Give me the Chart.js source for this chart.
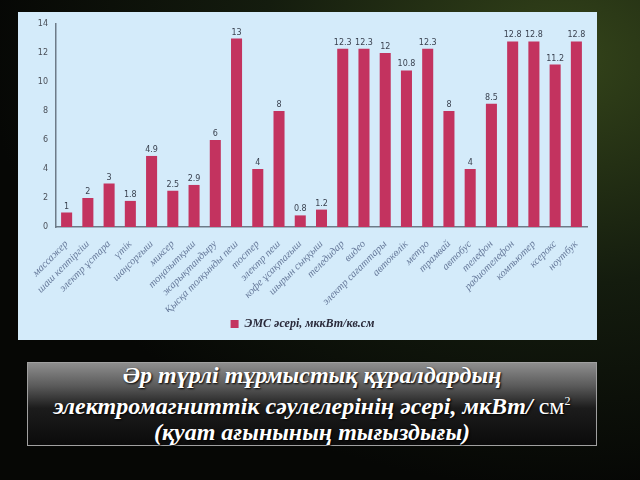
<!DOCTYPE html>
<html><head><meta charset="utf-8">
<script src="https://cdn.jsdelivr.net/npm/chart.js@4"></script>
<style>
html,body{margin:0;padding:0;width:640px;height:480px;overflow:hidden;background:#000;}
#bg{position:absolute;left:0;top:0;width:640px;height:480px;background:radial-gradient(ellipse at 88% 12%, #34441a 0%, #141c0e 38%, #060705 72%);}
#box{position:absolute;left:18px;top:12px;width:579px;height:328px;background:#d4ebfa;}
#cap{position:absolute;left:27px;top:362px;width:570px;height:84px;border:1px solid #a0a0a0;box-sizing:border-box;background:linear-gradient(#8e8e8e 0%, #5a5a5a 28%, #1c1c1c 55%, #0b0b0b 100%);color:#fff;font:italic bold 24px "Liberation Serif",serif;text-align:center;line-height:26px;padding-top:0px;text-shadow:1px 1px 2px #000;white-space:nowrap;}
#cap div{position:relative;top:-1px;}
#cap sup{font-size:12px;}
</style></head>
<body>
<div id="bg"></div>
<div id="box"><canvas id="c" width="579" height="328"></canvas></div>
<div id="cap"><div>Әр түрлі тұрмыстық құралдардың<br>электромагниттік сәулелерінің әсері, мкВт/ <span style="font-style:normal;font-weight:normal">см<sup>2</sup></span><br>(қуат ағынының тығыздығы)</div></div>
<script>
const categories = ['массажер','шаш кептіргіш','электр ұстара','үтік','шаңсорғыш','миксер','тоңазытқыш','жарықтандыру','Қысқа толқынды пеш','тостер','электр пеш','кофе ұсақтағыш','шырын сыққыш','теледидар','видео','электр сағаттары','автокөлік','метро','трамвай','автобус','телефон','радиотелефон','компьютер','ксерокс','ноутбук'];
const values = [1,2,3,1.8,4.9,2.5,2.9,6,13,4,8,0.8,1.2,12.3,12.3,12,10.8,12.3,8,4,8.5,12.8,12.8,11.2,12.8];
const yTicks = [0,2,4,6,8,10,12,14];
const seriesName = 'ЭМС әсері, мккВт/кв.см';

const valueLabels = {
  id:'valueLabels',
  afterDatasetsDraw(chart){
    const ctx = chart.ctx;
    const meta = chart.getDatasetMeta(0);
    ctx.save();
    ctx.font = '8px "DejaVu Sans", sans-serif';
    ctx.fillStyle = '#3a4250';
    ctx.textAlign = 'center';
    ctx.textBaseline = 'bottom';
    meta.data.forEach((bar,i)=>{ ctx.fillText(String(values[i]), bar.x, bar.y - 2); });
    ctx.restore();
  }
};

new Chart(document.getElementById('c'), {
  type:'bar',
  data:{ labels:categories, datasets:[{ label:seriesName, data:values, backgroundColor:'#c3335f', borderWidth:0, barPercentage:0.52, categoryPercentage:1 }]},
  options:{
    responsive:false, animation:false,
    layout:{ padding:{ left:0, right:10, top:12, bottom:0 } },
    plugins:{
      legend:{ position:'bottom', labels:{ boxWidth:8, boxHeight:8, padding:6, color:'#2a2a3a', font:{ family:'"Liberation Serif", serif', style:'italic', weight:'bold', size:12 } } },
      tooltip:{ enabled:false }
    },
    scales:{
      x:{
        grid:{ display:false },
        border:{ display:true, color:'#6d7b88', width:1.5 },
        ticks:{ autoSkip:false, minRotation:45, maxRotation:45, color:'#66799a', padding:3, font:{ family:'"Liberation Serif", serif', style:'italic', size:10.5 } },
        afterFit(s){ s.height = 85; }
      },
      y:{
        min:0, max:14,
        afterBuildTicks(s){ s.ticks = yTicks.map(v=>({value:v})); },
        grid:{ display:false },
        border:{ display:true, color:'#6d7b88', width:1.5 },
        ticks:{ color:'#4a4f58', padding:0, font:{ family:'"DejaVu Sans", sans-serif', size:8 } },
        afterFit(s){ s.width = 38; }
      }
    }
  },
  plugins:[valueLabels]
});
</script>
</body></html>
